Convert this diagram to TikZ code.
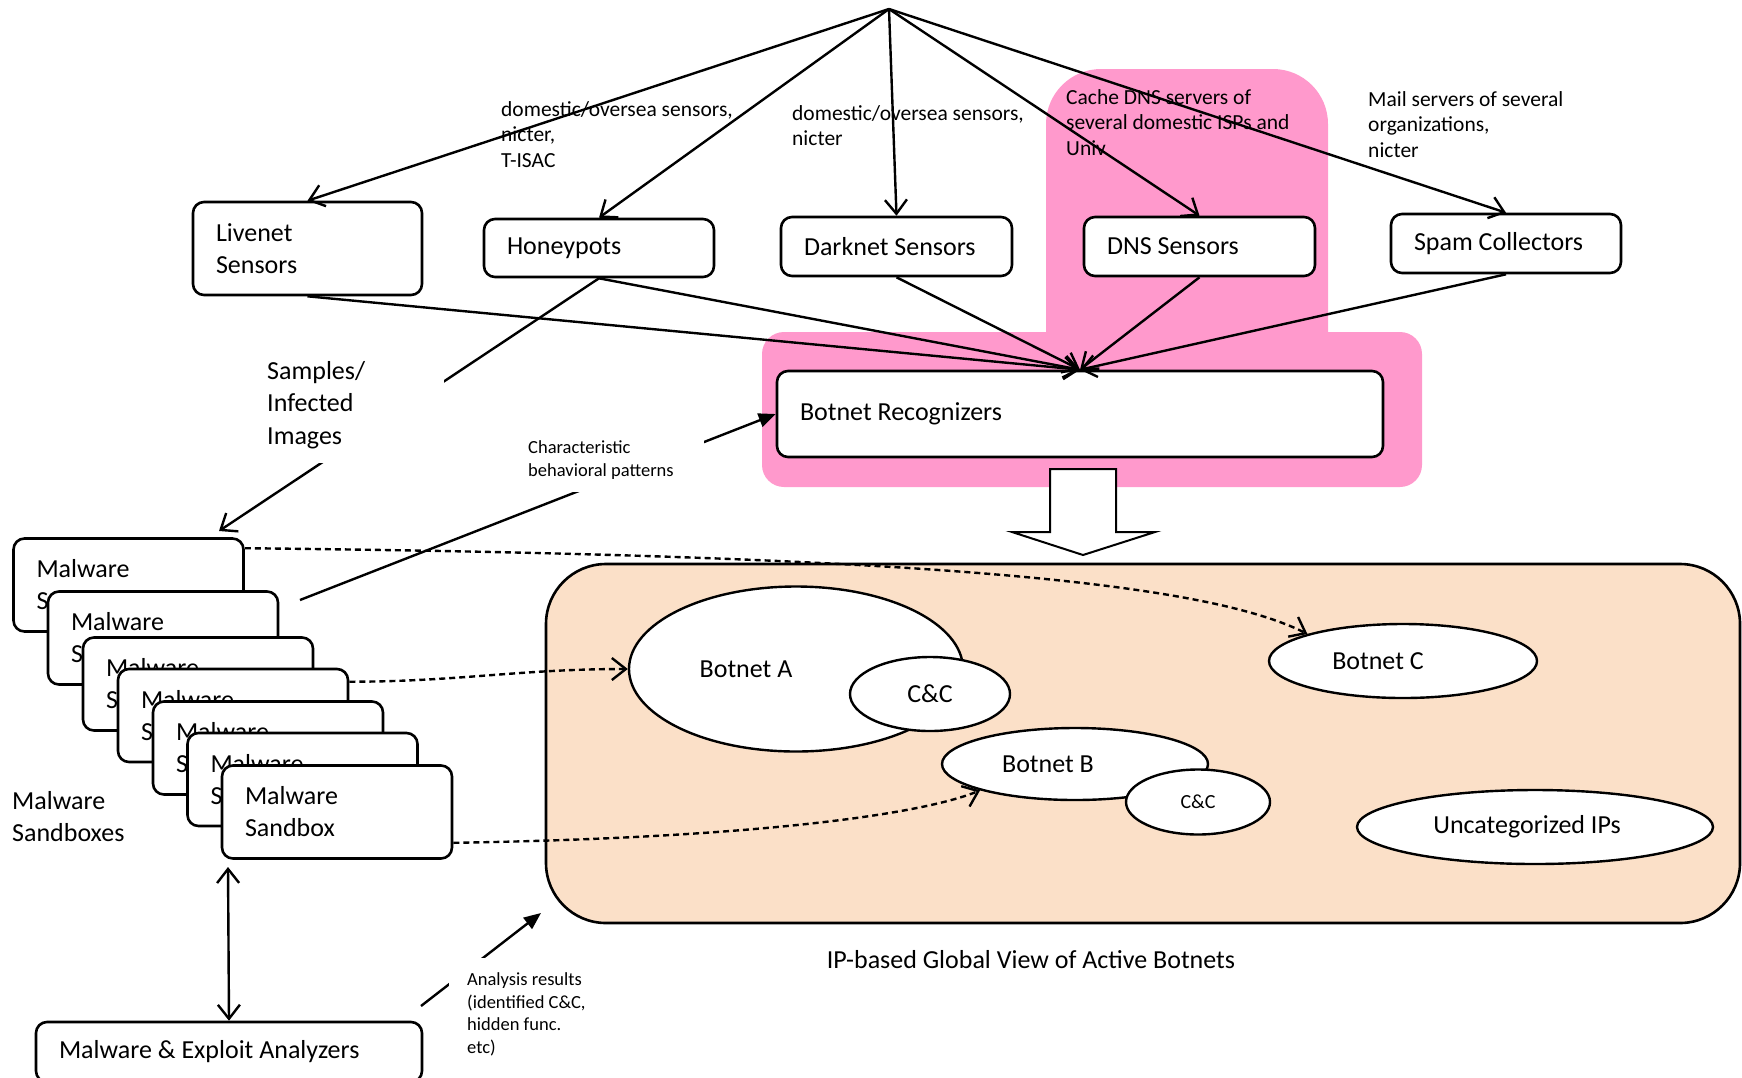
\documentclass[tikz,border=0pt]{standalone}
\usepackage{fontspec}
\setmainfont{Carlito}
\usetikzlibrary{arrows.meta,shapes.geometric}
\definecolor{pinkbg}{RGB}{255,153,204}
\definecolor{peach}{RGB}{251,224,200}

\begin{document}
\begin{tikzpicture}[x=1pt,y=-1pt,font=\fontsize{26}{32}\selectfont,
  unitbox/.style={draw,fill=white,rounded corners=11pt,line width=2.6pt,align=flush left,inner xsep=23pt,inner ysep=0pt},
  botnet/.style={draw,fill=white,ellipse,line width=2.4pt,inner sep=0pt},
  notetext/.style={align=flush left,inner sep=0pt,anchor=west,font=\fontsize{21.5}{25.5}\selectfont},
  gaplabel/.style={fill=white,align=flush left,inner ysep=0pt,anchor=north west},
  flow/.style={line width=2.4pt,-{Straight Barb[length=14pt,width=22pt]}},
  feed/.style={line width=2.4pt,-{Triangle[length=17pt,width=14pt]}},
  dashflow/.style={flow,dash pattern=on 6pt off 4pt}]
\useasboundingbox (0,0) rectangle (1742,1077);

% backgrounds
\fill[pinkbg,rounded corners=55pt] (1046,69) rectangle (1328,420);
\fill[pinkbg,rounded corners=22pt] (762,332) rectangle (1422,487);
\node[draw,fill=peach,rounded corners=60pt,line width=2.6pt,minimum width=1194pt,minimum height=359pt] (view) at (1143,743.5) {};
\draw[line width=2pt,fill=white] (1050,469) -- (1116,469) -- (1116,532) -- (1155,532) -- (1083,555) -- (1012,532) -- (1050,532) -- cycle;

% sensors
\coordinate (src) at (889,9);
\node[unitbox,text width=183pt,minimum height=93pt] (livenet) at (307.5,248.5) {Livenet\\Sensors};
\node[unitbox,text width=184pt,minimum height=58pt] (honey) at (599,248) {Honeypots};
\node[unitbox,text width=185pt,minimum height=59pt] (darknet) at (896.5,246.5) {Darknet Sensors};
\node[unitbox,text width=185pt,minimum height=59pt] (dns) at (1199.5,246.5) {DNS Sensors};
\node[unitbox,text width=184pt,minimum height=59pt] (spam) at (1506,243.5) {Spam Collectors};
\node[unitbox,text width=560pt,minimum height=86pt] (botR) at (1080,414) {Botnet Recognizers};

\node[notetext] (srcA) at (501,134.5) {domestic/oversea sensors,\\nicter,\\T-ISAC};
\node[notetext] (srcB) at (792,125.5) {domestic/oversea sensors,\\nicter};
\node[notetext] (srcC) at (1066,122.5) {Cache DNS servers of\\several domestic ISPs and\\Univ};
\node[notetext] (srcD) at (1368,124.5) {Mail servers of several\\organizations,\\nicter};

% sandboxes
\node[unitbox,text width=184pt,minimum height=93pt] (sb1) at (128.5,585) {Malware\\Sandbox};
\node[unitbox,text width=184pt,minimum height=93pt] (sb2) at (163,638) {Malware\\Sandbox};
\node[unitbox,text width=184pt,minimum height=93pt] (sb3) at (198,684) {Malware\\Sandbox};
\node[unitbox,text width=184pt,minimum height=93pt] (sb4) at (233,715.5) {Malware\\Sandbox};
\node[unitbox,text width=184pt,minimum height=93pt] (sb5) at (268,748) {Malware\\Sandbox};
\node[unitbox,text width=184pt,minimum height=93pt] (sb6) at (302.5,779.5) {Malware\\Sandbox};
\node[unitbox,text width=184pt,minimum height=93pt] (sb7) at (337,812) {Malware\\Sandbox};
\node[anchor=west,align=flush left,inner sep=0pt] (sblabel) at (12,816.5) {Malware\\Sandboxes};
\node[unitbox,text width=340pt,minimum height=60pt] (analyzers) at (229,1052) {Malware \& Exploit Analyzers};

% botnets
\node[botnet,minimum width=334pt,minimum height=165pt] (botA) at (796,669) {};
\node[inner sep=0pt] (botAt) at ([xshift=-50pt]botA.center) {Botnet A};
\node[botnet,minimum width=160pt,minimum height=74pt] (ccA) at (930,694) {C\&C};
\node[botnet,minimum width=266pt,minimum height=72pt] (botB) at (1075,764) {};
\node[inner sep=0pt] (botBt) at ([xshift=-27pt]botB.center) {Botnet B};
\node[botnet,minimum width=144pt,minimum height=65pt,font=\fontsize{20}{24}\selectfont] (ccB) at (1198,802) {C\&C};
\node[botnet,minimum width=268pt,minimum height=74pt] (botC) at (1403,661) {};
\node[inner sep=0pt] (botCt) at ([xshift=-25pt]botC.center) {Botnet C};
\node[botnet,minimum width=356pt,minimum height=74pt] (uncat) at (1535,827) {};
\node[inner sep=0pt] (uncatt) at ([xshift=-8pt]uncat.center) {Uncategorized IPs};
\node (viewtitle) at (1031,960) {IP-based Global View of Active Botnets};

% connectors
\draw[flow] (src) -- (livenet.north);
\draw[flow] (src) -- (honey.north);
\draw[flow] (src) -- (darknet.north);
\draw[flow] (src) -- (dns.north);
\draw[flow] (src) -- (spam.north);
\draw[flow] (livenet.south) -- (botR.north);
\draw[flow] (honey.south) -- (botR.north);
\draw[flow] (darknet.south) -- (botR.north);
\draw[flow] (dns.south) -- (botR.north);
\draw[flow] (spam.south) -- (botR.north);

\coordinate (sampT) at (219,531);
\coordinate (charS) at (300,600);
\coordinate (anaS) at (421,1006);
\coordinate (anaT) at (541,913);
\coordinate (sbBase) at (228,867);
\draw[flow] (honey.south) -- (sampT);
\draw[feed] (charS) -- (botR.west);
\draw[feed] (anaS) -- (anaT);
\draw[line width=2.4pt,{Straight Barb[length=14pt,width=22pt]}-{Straight Barb[length=14pt,width=22pt]}] (analyzers.north) -- (sbBase);

\node[gaplabel,text width=165pt,inner xsep=12pt,minimum height=117pt,font=\fontsize{26}{32.5}\selectfont] (samples) at (255,346) {Samples/\\Infected\\Images};
\node[gaplabel,text width=170pt,inner xsep=6pt,minimum height=65pt,font=\fontsize{18.5}{23}\selectfont] (charpat) at (522,427) {Characteristic\\behavioral patterns};
\node[gaplabel,text width=130pt,inner xsep=18pt,minimum height=112pt,font=\fontsize{18.5}{22.5}\selectfont] (analysis) at (449,958) {Analysis results\\(identified C\&C,\\hidden func.\\etc)};

\draw[dashflow] ([yshift=-11pt]sb1.north east) .. controls (900,555) and (1200,580) .. (botC.north west);
\draw[dashflow] ([yshift=-14pt]sb4.north east) to[out=0,in=180] (botA.west);
\draw[dashflow] ([yshift=17pt]sb7.south east) .. controls (750,838) and (920,815) .. (botB.south west);
\end{tikzpicture}
\end{document}
